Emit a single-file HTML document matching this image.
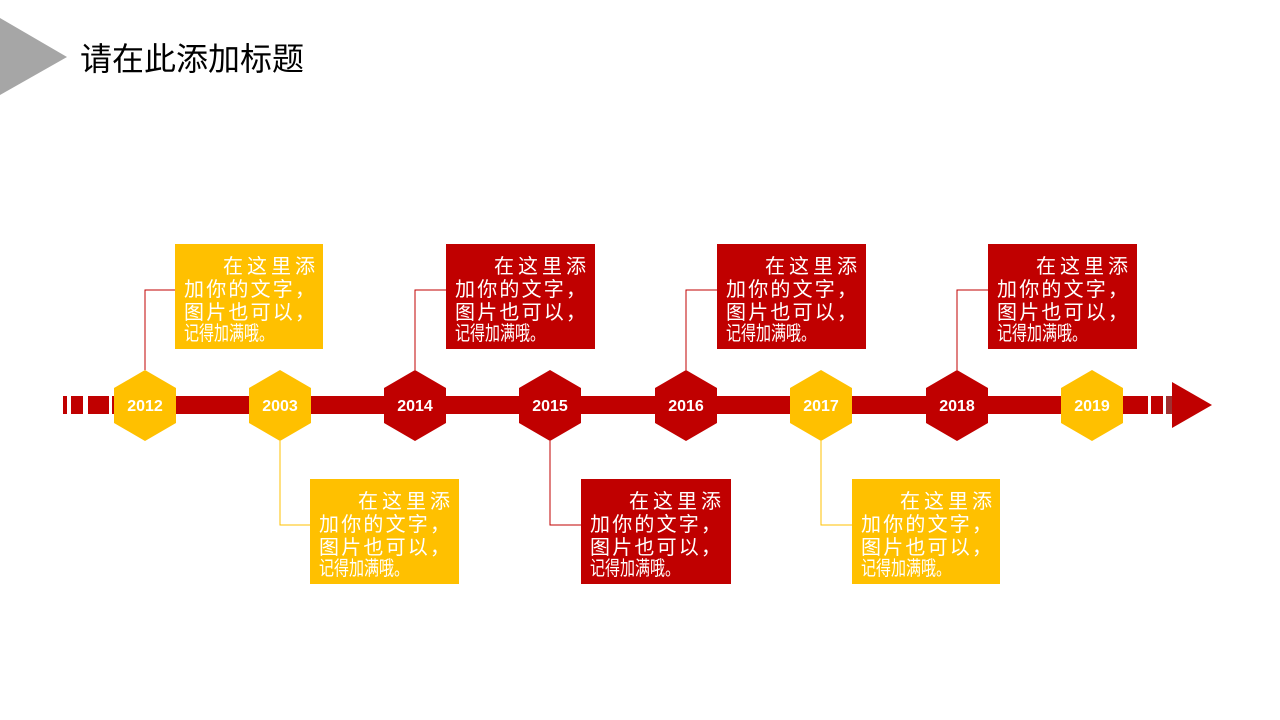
<!DOCTYPE html>
<html><head><meta charset="utf-8"><style>
html,body{margin:0;padding:0;background:#fff;}
svg{display:block;}
text{font-family:"Liberation Sans","Noto Sans CJK SC",sans-serif;}
</style></head><body>
<svg width="1280" height="720" viewBox="0 0 1280 720" xmlns="http://www.w3.org/2000/svg">
<polygon points="0,18 67,57 0,95" fill="#A6A6A6"/>
<text x="80" y="70" font-size="32" fill="#000">请在此添加标题</text>

<g fill="#C00000">
<rect x="63" y="396" width="4" height="18"/>
<rect x="71" y="396" width="12" height="18"/>
<rect x="88" y="396" width="21" height="18"/>
<rect x="112" y="396" width="1015" height="18"/>
<rect x="1127" y="396" width="21" height="18"/>
<rect x="1151" y="396" width="12" height="18"/>
<rect x="1166" y="396" width="6" height="18" fill="#A03030"/>
<polygon points="1172,382 1212,405 1172,428"/>
</g>

<g fill="none" stroke-width="1">
<polyline points="145,370 145,290 175,290" stroke="#C00000"/>
<polyline points="415,370 415,290 446,290" stroke="#C00000"/>
<polyline points="686,370 686,290 717,290" stroke="#C00000"/>
<polyline points="957,370 957,290 988,290" stroke="#C00000"/>
<polyline points="280,441 280,525 310,525" stroke="#FFC000"/>
<polyline points="550,441 550,525 581,525" stroke="#C00000"/>
<polyline points="821,441 821,525 852,525" stroke="#FFC000"/>
</g>

<g font-size="16" font-weight="bold" fill="#fff" text-anchor="middle">
<polygon points="145,370 176,388 176,423 145,441 114,423 114,388" fill="#FFC000"/><text x="145" y="411">2012</text>
<polygon points="280,370 311,388 311,423 280,441 249,423 249,388" fill="#FFC000"/><text x="280" y="411">2003</text>
<polygon points="415,370 446,388 446,423 415,441 384,423 384,388" fill="#C00000"/><text x="415" y="411">2014</text>
<polygon points="550,370 581,388 581,423 550,441 519,423 519,388" fill="#C00000"/><text x="550" y="411">2015</text>
<polygon points="686,370 717,388 717,423 686,441 655,423 655,388" fill="#C00000"/><text x="686" y="411">2016</text>
<polygon points="821,370 852,388 852,423 821,441 790,423 790,388" fill="#FFC000"/><text x="821" y="411">2017</text>
<polygon points="957,370 988,388 988,423 957,441 926,423 926,388" fill="#C00000"/><text x="957" y="411">2018</text>
<polygon points="1092,370 1123,388 1123,423 1092,441 1061,423 1061,388" fill="#FFC000"/><text x="1092" y="411">2019</text>
</g>

<g transform="translate(175,244)">
<rect width="148" height="105" fill="#FFC000"/>
<g fill="#fff" font-size="20"><text x="48" y="29" textLength="92" lengthAdjust="spacing">在这里添</text><text x="9" y="52" textLength="131" lengthAdjust="spacing">加你的文字，</text><text x="9" y="75" textLength="131" lengthAdjust="spacing">图片也可以，</text><text x="9" y="96" textLength="90" lengthAdjust="spacingAndGlyphs">记得加满哦。</text></g>
</g>
<g transform="translate(446,244)">
<rect width="149" height="105" fill="#C00000"/>
<g fill="#fff" font-size="20"><text x="48" y="29" textLength="92" lengthAdjust="spacing">在这里添</text><text x="9" y="52" textLength="131" lengthAdjust="spacing">加你的文字，</text><text x="9" y="75" textLength="131" lengthAdjust="spacing">图片也可以，</text><text x="9" y="96" textLength="90" lengthAdjust="spacingAndGlyphs">记得加满哦。</text></g>
</g>
<g transform="translate(717,244)">
<rect width="149" height="105" fill="#C00000"/>
<g fill="#fff" font-size="20"><text x="48" y="29" textLength="92" lengthAdjust="spacing">在这里添</text><text x="9" y="52" textLength="131" lengthAdjust="spacing">加你的文字，</text><text x="9" y="75" textLength="131" lengthAdjust="spacing">图片也可以，</text><text x="9" y="96" textLength="90" lengthAdjust="spacingAndGlyphs">记得加满哦。</text></g>
</g>
<g transform="translate(988,244)">
<rect width="149" height="105" fill="#C00000"/>
<g fill="#fff" font-size="20"><text x="48" y="29" textLength="92" lengthAdjust="spacing">在这里添</text><text x="9" y="52" textLength="131" lengthAdjust="spacing">加你的文字，</text><text x="9" y="75" textLength="131" lengthAdjust="spacing">图片也可以，</text><text x="9" y="96" textLength="90" lengthAdjust="spacingAndGlyphs">记得加满哦。</text></g>
</g>
<g transform="translate(310,479)">
<rect width="149" height="105" fill="#FFC000"/>
<g fill="#fff" font-size="20"><text x="48" y="29" textLength="92" lengthAdjust="spacing">在这里添</text><text x="9" y="52" textLength="131" lengthAdjust="spacing">加你的文字，</text><text x="9" y="75" textLength="131" lengthAdjust="spacing">图片也可以，</text><text x="9" y="96" textLength="90" lengthAdjust="spacingAndGlyphs">记得加满哦。</text></g>
</g>
<g transform="translate(581,479)">
<rect width="150" height="105" fill="#C00000"/>
<g fill="#fff" font-size="20"><text x="48" y="29" textLength="92" lengthAdjust="spacing">在这里添</text><text x="9" y="52" textLength="131" lengthAdjust="spacing">加你的文字，</text><text x="9" y="75" textLength="131" lengthAdjust="spacing">图片也可以，</text><text x="9" y="96" textLength="90" lengthAdjust="spacingAndGlyphs">记得加满哦。</text></g>
</g>
<g transform="translate(852,479)">
<rect width="148" height="105" fill="#FFC000"/>
<g fill="#fff" font-size="20"><text x="48" y="29" textLength="92" lengthAdjust="spacing">在这里添</text><text x="9" y="52" textLength="131" lengthAdjust="spacing">加你的文字，</text><text x="9" y="75" textLength="131" lengthAdjust="spacing">图片也可以，</text><text x="9" y="96" textLength="90" lengthAdjust="spacingAndGlyphs">记得加满哦。</text></g>
</g>
</svg>
</body></html>
